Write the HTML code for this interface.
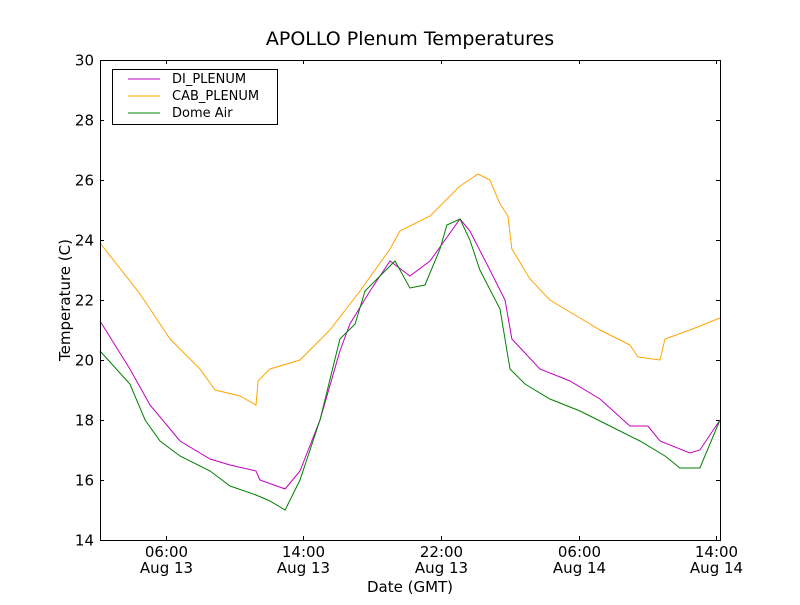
<!DOCTYPE html>
<html><head><meta charset="utf-8"><style>
body{margin:0;background:#fff}
svg text{font-family:"DejaVu Sans","Liberation Sans",sans-serif}
</style></head><body>
<svg id="chart" width="800" height="600" xmlns="http://www.w3.org/2000/svg">
<rect width="800" height="600" fill="#fff"/>
<text x="410" y="45" font-size="19" text-anchor="middle">APOLLO Plenum Temperatures</text>
<text x="410" y="592" font-size="15" text-anchor="middle">Date (GMT)</text>
<text transform="translate(70,300) rotate(-90)" font-size="15" text-anchor="middle">Temperature (C)</text>
<g id="ticks"></g>
<g id="series"></g>
<rect x="100.5" y="60.5" width="620" height="480" fill="none" stroke="#000"/>
<g>
<rect x="112.5" y="69.5" width="165" height="55" fill="#fff" stroke="#000"/>
<line x1="128" y1="79" x2="160" y2="79" stroke="#bf00bf"/>
<text x="172" y="83" font-size="13">DI_PLENUM</text>
<line x1="128" y1="96" x2="160" y2="96" stroke="#ffa500"/>
<text x="172" y="100" font-size="13">CAB_PLENUM</text>
<line x1="128" y1="113" x2="160" y2="113" stroke="#008000"/>
<text x="172" y="117" font-size="13">Dome Air</text>
</g>
</svg>
<script>
// hours since 02:10 GMT Aug 13
const cabHours=[0,2.33,4.07,5.81,6.69,8.14,9.07,9.19,9.88,11.63,13.37,15.12,16.86,17.44,19.19,20.93,21.98,22.67,23.26,23.72,23.95,25.0,26.16,27.91,29.07,30.81,31.28,32.56,32.85,34.3,36.05];
const cabTemps=[23.9,22.2,20.7,19.7,19.0,18.8,18.5,19.3,19.7,20.0,21.0,22.3,23.7,24.3,24.8,25.8,26.2,26.0,25.2,24.8,23.7,22.7,22.0,21.4,21.0,20.5,20.1,20.0,20.7,21.0,21.4];
const diHours=[0,1.74,2.91,4.65,6.4,7.56,9.07,9.3,10.76,11.63,12.79,13.95,14.53,15.7,16.86,18.02,19.19,20.06,20.93,21.51,22.67,23.55,23.95,25.58,27.33,29.07,30.81,31.86,32.56,34.3,34.88,36.05];
const diTemps=[21.3,19.7,18.5,17.3,16.7,16.5,16.3,16.0,15.7,16.3,18.0,20.3,21.2,22.3,23.3,22.8,23.3,24.0,24.7,24.3,23.0,22.0,20.7,19.7,19.3,18.7,17.8,17.8,17.3,16.9,17.0,18.0];
const domeHours=[0,1.74,2.62,3.49,4.65,6.4,7.56,9.07,9.88,10.76,11.63,12.79,13.95,14.83,15.41,16.28,17.15,18.02,18.9,19.77,20.17,20.93,21.51,22.09,23.26,23.84,24.71,26.16,27.91,29.65,31.4,32.85,33.72,34.88,36.05];
const domeTemps=[20.3,19.2,18.0,17.3,16.8,16.3,15.8,15.5,15.3,15.0,16.0,18.0,20.7,21.2,22.3,22.8,23.3,22.4,22.5,23.7,24.5,24.7,24.0,23.0,21.7,19.7,19.2,18.7,18.3,17.8,17.3,16.8,16.4,16.4,18.0];
const yTicks=[14,16,18,20,22,24,26,28,30];
const xTickHours=[3.83,11.83,19.83,27.83,35.83];
const xTickTimes=["06:00","14:00","22:00","06:00","14:00"];
const xTickDates=["Aug 13","Aug 13","Aug 13","Aug 14","Aug 14"];

const NS="http://www.w3.org/2000/svg";
const X=h=>100+h/36.05*620;
const Y=t=>540-(t-14)/16*480;
const tg=document.getElementById('ticks');
function mk(tag,attrs,parent){const e=document.createElementNS(NS,tag);for(const k in attrs)e.setAttribute(k,attrs[k]);parent.appendChild(e);return e;}
yTicks.forEach(v=>{
  const y=Math.round(Y(v))+0.5;
  mk('line',{x1:100,y1:y,x2:104,y2:y,stroke:'#000'},tg);
  mk('line',{x1:716,y1:y,x2:720,y2:y,stroke:'#000'},tg);
  const t=mk('text',{x:94,y:y+5,'font-size':15,'text-anchor':'end'},tg);
  t.textContent=v;
  
  
});
xTickHours.forEach((h,i)=>{
  const x=Math.round(X(h))+0.5;
  mk('line',{x1:x,y1:540,x2:x,y2:536,stroke:'#000'},tg);
  mk('line',{x1:x,y1:60,x2:x,y2:64,stroke:'#000'},tg);
  const t=mk('text',{x:x,y:557,'font-size':15,'text-anchor':'middle'},tg);
  t.textContent=xTickTimes[i];
  
  
  const d=mk('text',{x:x,y:573,'font-size':15,'text-anchor':'middle'},tg);
  d.textContent=xTickDates[i];
  
  
});
const sg=document.getElementById('series');
function line(hs,ts,color,name){
  const pts=hs.map((h,i)=>X(h).toFixed(1)+','+Y(ts[i]).toFixed(1)).join(' ');
  const p=mk('polyline',{points:pts,fill:'none',stroke:color,'stroke-width':1},sg);
  
  
}
line(cabHours,cabTemps,'#ffa500','cab-plenum-line');
line(diHours,diTemps,'#bf00bf','di-plenum-line');
line(domeHours,domeTemps,'#008000','dome-air-line');
</script>
</body></html>
